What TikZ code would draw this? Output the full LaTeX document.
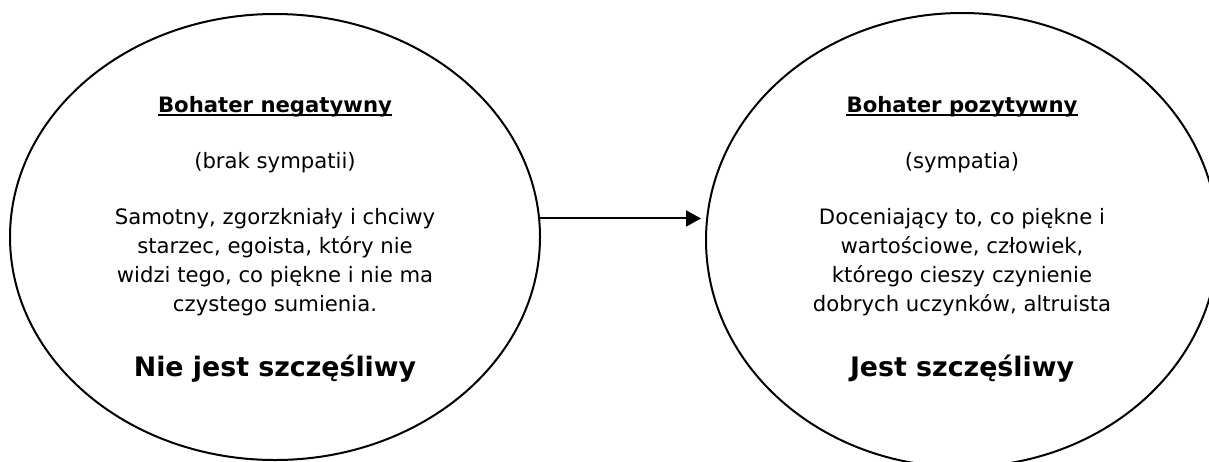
\documentclass[tikz,border=0pt]{standalone}
\usepackage{fontspec}
\setmainfont{DejaVu Sans}
\usetikzlibrary{shapes.geometric,arrows.meta}
\tikzset{
  oval/.style={draw=black, line width=1pt, ellipse, inner sep=0pt},
  txt/.style={inner sep=0pt, anchor=base, font=\fontsize{10.6pt}{14.35pt}\selectfont, align=center},
  ttl/.style={inner sep=0pt, anchor=base, font=\fontsize{10.6pt}{14.35pt}\selectfont\bfseries},
  big/.style={inner sep=0pt, anchor=base, font=\fontsize{13.4pt}{16pt}\selectfont\bfseries},
  uline/.style={line width=0.9pt},
  link/.style={line width=1pt, -{Triangle[length=7.5pt,width=8pt]}}
}
\begin{document}
\begin{tikzpicture}[x=0.5pt,y=-0.5pt]
\useasboundingbox (0,0) rectangle (1209,461);
\clip (0,0) rectangle (1209,461);
% left ellipse
\node[oval, minimum width=265pt, minimum height=223pt] (L) at (275,237) {};
\node[ttl] (Lt) at (275,112) {Bohater negatywny};
\draw[uline] ([yshift=-1.3pt]Lt.base west) -- ([yshift=-1.3pt]Lt.base east);
\node[txt] (Ls) at (275,168) {(brak sympatii)};
\node[txt] (Lb) at (275,311) {Samotny, zgorzkniały i chciwy\\starzec, egoista, który nie\\widzi tego, co piękne i nie ma\\czystego sumienia.};
\node[big] (Lh) at (275,376) {Nie jest szczęśliwy};
% right ellipse
\node[oval, minimum width=256pt, minimum height=227pt] (R) at (962,240) {};
\node[ttl] (Rt) at (962,112) {Bohater pozytywny};
\draw[uline] ([yshift=-1.3pt]Rt.base west) -- ([yshift=-1.3pt]Rt.base east);
\node[txt] (Rs) at (962,168) {(sympatia)};
\node[txt] (Rb) at (962,311) {Doceniający to, co piękne i\\wartościowe, człowiek,\\którego cieszy czynienie\\dobrych uczynków, altruista};
\node[big] (Rh) at (962,376) {Jest szczęśliwy};
% arrow
\coordinate (A) at (L.4.8);
\draw[link, shorten >=2pt] (A) -- (A -| R.west);
\end{tikzpicture}
\end{document}
